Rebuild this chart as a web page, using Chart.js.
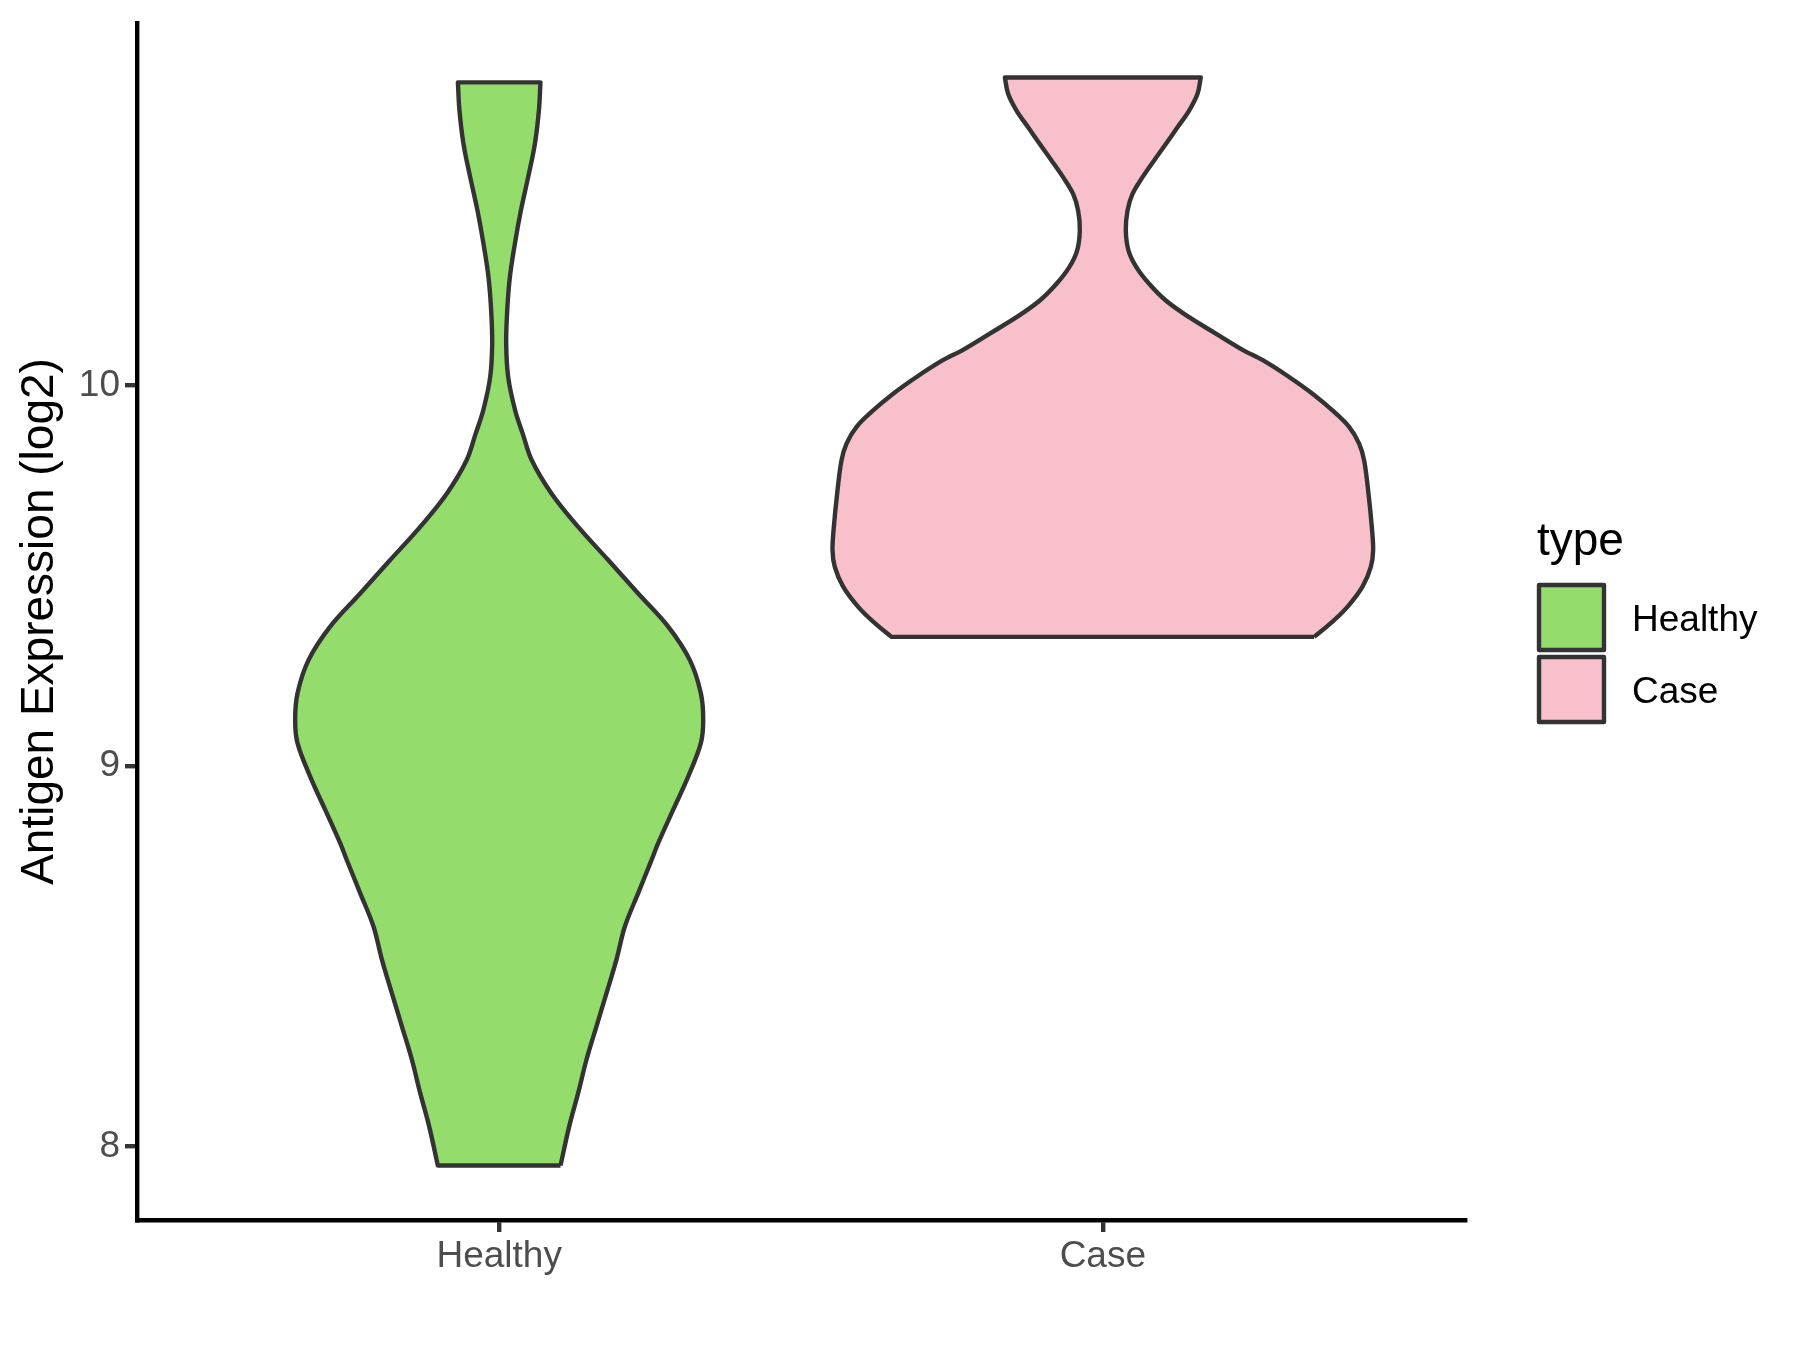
<!DOCTYPE html>
<html>
<head>
<meta charset="utf-8">
<title>Antigen Expression violin</title>
<script src="https://cdn.jsdelivr.net/npm/chart.js"></script>
<style>
    html, body { margin: 0; padding: 0; background: #ffffff; }
    #violin { display: block; }
</style>
</head>
<body>
<canvas id="violin" width="1800" height="1350"></canvas>
<script>
// categories on the x axis (also the legend entries)
var categories = ['Healthy', 'Case'];
var yTicks = [8, 9, 10];

// violin outlines: expression level and half width (x units)
var healthyLevels = [7.950, 8.053, 8.141, 8.228, 8.316, 8.403, 8.491, 8.578, 8.666, 8.753, 8.797, 8.885,
    8.972, 9.060, 9.121, 9.191, 9.278, 9.366, 9.453, 9.541, 9.628, 9.716, 9.803, 9.873, 9.934,
    10.022, 10.109, 10.197, 10.284, 10.372, 10.459, 10.547, 10.634, 10.722, 10.796];
var healthyHalfWidth = [0.1016, 0.1160, 0.1309, 0.1446, 0.1612, 0.1778, 0.1943, 0.2082, 0.2303, 0.2525, 0.2634, 0.2883,
    0.3131, 0.3341, 0.3380, 0.3341, 0.3159, 0.2800, 0.2303, 0.1806, 0.1309, 0.0866, 0.0540, 0.0390, 0.0265,
    0.0149, 0.0116, 0.0133, 0.0177, 0.0260, 0.0359, 0.0480, 0.0591, 0.0658, 0.0684];

var caseLevels = [9.339, 9.375, 9.418, 9.471, 9.523, 9.567, 9.628, 9.716, 9.803, 9.847, 9.891, 9.934,
    9.978, 10.022, 10.066, 10.092, 10.136, 10.179, 10.223, 10.267, 10.310, 10.354, 10.407, 10.459,
    10.503, 10.547, 10.591, 10.634, 10.678, 10.722, 10.766, 10.809];
var caseHalfWidth = [0.3500, 0.3777, 0.4053, 0.4302, 0.4440, 0.4478, 0.4456, 0.4401, 0.4329, 0.4246, 0.4080, 0.3805,
    0.3474, 0.3086, 0.2650, 0.2330, 0.1872, 0.1430, 0.1044, 0.0767, 0.0558, 0.0426, 0.0381, 0.0409,
    0.0492, 0.0658, 0.0850, 0.1044, 0.1237, 0.1430, 0.1569, 0.1623];

var fillColors = ['#94DC6B', '#F7C0CB'];
var outline = '#333333';
var fontFamily = '"Liberation Sans", Arial, sans-serif';

// closed polygon: right side going up, left side coming down.
// the four corner points are doubled so the flat ends stay straight
function violinPoints(center, levels, half) {
    var pts = [];
    var n = levels.length;
    pts.push({x: center + half[0], y: levels[0]});
    for (var i = 0; i < n; i++) {
        pts.push({x: center + half[i], y: levels[i]});
    }
    pts.push({x: center + half[n - 1], y: levels[n - 1]});
    pts.push({x: center - half[n - 1], y: levels[n - 1]});
    for (var j = n - 1; j >= 0; j--) {
        pts.push({x: center - half[j], y: levels[j]});
    }
    pts.push({x: center - half[0], y: levels[0]});
    pts.push({x: center + half[0], y: levels[0]});
    return pts;
}

function violinDataset(idx, levels, half) {
    return {
        label: categories[idx],
        data: violinPoints(idx + 1, levels, half),
        showLine: true,
        fill: 'shape',
        backgroundColor: fillColors[idx],
        borderColor: outline,
        borderWidth: 4.4,
        borderJoinStyle: 'round',
        pointRadius: 0,
        tension: 0.35
    };
}

// ggplot style legend on the right
var typeLegend = {
    id: 'typeLegend',
    afterDraw: function (chart) {
        var ctx = chart.ctx;
        ctx.save();
        ctx.fillStyle = '#000000';
        ctx.textAlign = 'left';
        ctx.textBaseline = 'alphabetic';
        ctx.font = '46px ' + fontFamily;
        ctx.fillText('type', 1537, 555);

        ctx.font = '37px ' + fontFamily;
        for (var i = 0; i < categories.length; i++) {
            var top = 585 + i * 72;
            ctx.fillStyle = fillColors[i];
            ctx.fillRect(1539, top, 65, 65);
            ctx.lineWidth = 4.4;
            ctx.strokeStyle = outline;
            ctx.lineJoin = 'round';
            ctx.strokeRect(1539, top, 65, 65);
            ctx.fillStyle = '#000000';
            ctx.fillText(categories[i], 1632, top + 46);
        }
        ctx.restore();
    }
};

var ctx = document.getElementById('violin').getContext('2d');

var violinChart = new Chart(ctx, {
    type: 'scatter',
    data: {
        datasets: [
            violinDataset(0, healthyLevels, healthyHalfWidth),
            violinDataset(1, caseLevels, caseHalfWidth)
        ]
    },
    options: {
        responsive: false,
        animation: false,
        devicePixelRatio: 1,
        events: [],
        layout: {
            padding: {left: 0, right: 335, top: 23, bottom: 0}
        },
        plugins: {
            legend: {display: false},
            tooltip: {enabled: false}
        },
        scales: {
            x: {
                type: 'linear',
                min: 0.4,
                max: 2.6,
                afterBuildTicks: function (scale) {
                    scale.ticks = categories.map(function (c, i) { return {value: i + 1}; });
                },
                afterFit: function (scale) {
                    scale.height = 130;
                    scale.paddingLeft = 0;
                    scale.paddingRight = 0;
                },
                border: {display: true, color: '#000000', width: 4.4},
                grid: {
                    drawOnChartArea: false,
                    drawTicks: true,
                    tickLength: 12,
                    tickColor: outline,
                    tickWidth: 4.4,
                    lineWidth: 4.4
                },
                ticks: {
                    autoSkip: false,
                    maxRotation: 0,
                    padding: 3,
                    color: '#4D4D4D',
                    font: {family: fontFamily, size: 37},
                    callback: function (value) {
                        return categories[Math.round(value) - 1];
                    }
                }
            },
            y: {
                type: 'linear',
                min: 7.807,
                max: 10.952,
                afterBuildTicks: function (scale) {
                    scale.ticks = yTicks.map(function (v) { return {value: v}; });
                },
                afterFit: function (scale) {
                    scale.width = 137;
                    scale.paddingTop = 0;
                    scale.paddingBottom = 0;
                },
                border: {display: true, color: '#000000', width: 4.4},
                grid: {
                    drawOnChartArea: false,
                    drawTicks: true,
                    tickLength: 12,
                    tickColor: outline,
                    tickWidth: 4.4,
                    lineWidth: 4.4
                },
                ticks: {
                    padding: 5,
                    color: '#4D4D4D',
                    font: {family: fontFamily, size: 37},
                    callback: function (value) {
                        return String(value);
                    }
                },
                title: {
                    display: true,
                    text: 'Antigen Expression (log2)',
                    color: '#000000',
                    font: {family: fontFamily, size: 46, lineHeight: 1},
                    padding: {top: 17, bottom: 0}
                }
            }
        }
    },
    plugins: [typeLegend]
});
</script>
</body>
</html>
